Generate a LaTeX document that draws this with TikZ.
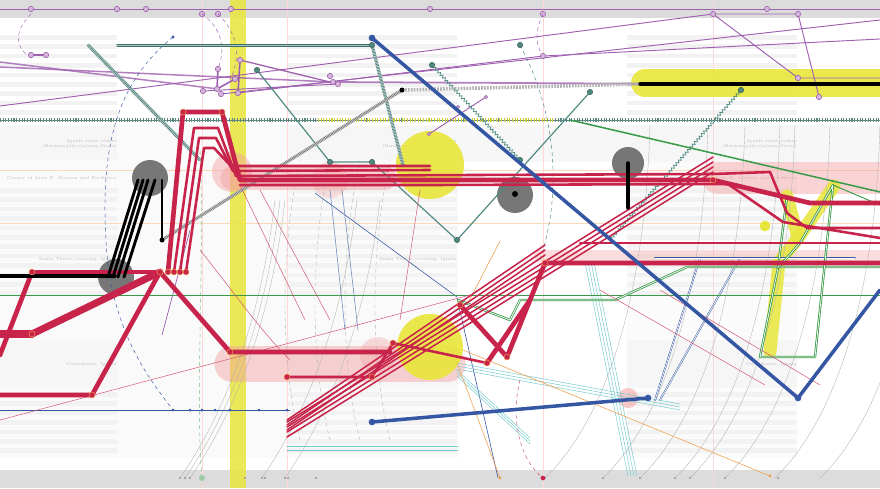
\documentclass[tikz,border=0pt]{standalone}
\usetikzlibrary{decorations.pathmorphing}
\definecolor{crim}{HTML}{C8234A}
\definecolor{pinkb}{HTML}{F4A0A0}
\definecolor{yel}{HTML}{E8E63A}
\definecolor{gcirc}{HTML}{707070}
\definecolor{purp}{HTML}{A060B0}
\definecolor{tealc}{HTML}{4E8A80}
\definecolor{grn}{HTML}{3A9A4A}
\definecolor{blu}{HTML}{3456A3}
\definecolor{cyanc}{HTML}{70C8CC}
\definecolor{bandg}{HTML}{DCDCDC}
\definecolor{rowg}{HTML}{F2F2F2}
\definecolor{orng}{HTML}{F0A050}
\tikzset{
  lbl/.style={text=gray!55, font=\fontsize{3.4}{4}\selectfont, inner sep=0pt, anchor=east},
  pnode/.style={circle, fill=purp!45, draw=purp, line width=0.5pt, inner sep=0pt, minimum size=1.6mm},
  tnode/.style={circle, fill=tealc, draw=tealc!60!black, line width=0.4pt, inner sep=0pt, minimum size=1.6mm},
  rnode/.style={circle, fill=crim, draw=orng, line width=0.4pt, inner sep=0pt, minimum size=1.8mm},
  bnode/.style={circle, fill=blu, inner sep=0pt, minimum size=2mm},
  gnode/.style={rectangle, fill=gray!70, inner sep=0pt, minimum size=0.8mm},
  redthick/.style={draw=crim, line width=4pt},
  redmed/.style={draw=crim, line width=2.2pt},
  redthin/.style={draw=crim!80, line width=0.4pt},
  arcg/.style={draw=gray!60, line width=0.3pt},
}
\begin{document}
\begin{tikzpicture}[x=0.3mm,y=-0.3mm, line join=round, line cap=round]
\useasboundingbox (0,0) rectangle (880,488);
\clip (0,0) rectangle (880,488);
\fill[white] (0,0) rectangle (880,488);
% background areas
\fill[gray!4] (0,125) rectangle (458,458);
\fill[gray!6] (458,125) rectangle (880,162);
\fill[gray!3] (627,162) rectangle (797,458);
\foreach \r in {117,457,797}{
  \foreach \y in {35,44.4,...,112} \fill[rowg] (\r-170,\y) rectangle (\r,\y+4.6);
  \fill[gray!7] (\r-170,126) rectangle (\r,160);
  \foreach \y in {188,197.4,...,300} \fill[rowg] (\r-170,\y) rectangle (\r,\y+4.6);
  \fill[gray!7] (\r-170,340) rectangle (\r,388);
  \foreach \y in {392,401.4,...,452} \fill[rowg] (\r-170,\y) rectangle (\r,\y+4.6);
  \node[lbl, font=\fontsize{3.8}{4}\selectfont] at (\r,141) {Iguala town center};
  \node[lbl] at (\r,146.5) {(Hermenegildo Galeana Street)};
  \node[lbl, font=\fontsize{3.8}{4}\selectfont] at (\r,178) {Corner of Juan N. Álvarez and Periférico};
  \node[lbl, font=\fontsize{3.8}{4}\selectfont] at (\r,259) {Santa Teresa crossing, Iguala};
  \node[lbl, font=\fontsize{3.8}{4}\selectfont] at (\r,364) {Courthouse, Iguala};
  \node[lbl] at (\r,479) {Undetermined location};
}
\fill[bandg] (0,0) rectangle (880,18);
\fill[bandg] (0,470) rectangle (880,488);
% faint verticals
\foreach \x in {202,287,543,713} \draw[pink!60, line width=0.3pt] (\x,0)--(\x,488);
% faint peach horizontals
\draw[orng!40, line width=0.4pt] (0,170)--(880,170);
\draw[orng!40, line width=0.4pt] (0,223)--(880,223);
% yellow vertical band
\fill[yel, opacity=0.85] (230,0) rectangle (246,488);
% pink blobs
\draw[pinkb, opacity=0.45, line width=20pt] (232,178)--(385,178);
\fill[pinkb, opacity=0.45] (232,172) circle (6mm);
\fill[pinkb, opacity=0.35] (330,180) circle (5.4mm);
\draw[pinkb, opacity=0.45, line width=27pt] (718,178)--(900,178);
\draw[pinkb, opacity=0.45, line width=30pt] (232,364)--(448,364);
\fill[pinkb, opacity=0.35] (378,355) circle (5.4mm);
\draw[pinkb, opacity=0.35, line width=11pt] (540,256)--(900,256);
\fill[pinkb, opacity=0.55] (628,398) circle (3mm);
% yellow shapes
\fill[yel, opacity=0.9] (430,165) circle (10.2mm);
\fill[yel, opacity=0.9] (430,347) circle (9.9mm);
\draw[yel, opacity=0.9, line width=23.8pt] (645,83)--(900,83);
\draw[yel, opacity=0.85, line width=11pt] (770,352)--(779,262)--(798,238)--(834,186);
\draw[yel, opacity=0.85, line width=11pt] (787,196)--(798,238);
\fill[yel] (765,226) circle (1.6mm);
% gray circles
\fill[gcirc, opacity=0.95] (150,178) circle (5.4mm);
\fill[gcirc, opacity=0.95] (116,277) circle (5.4mm);
\fill[gcirc, opacity=0.95] (515,195) circle (5.4mm);
\fill[gcirc, opacity=0.95] (628,163) circle (4.8mm);
\fill[black] (515,194) circle (0.9mm);
% gray arcs
\foreach \x in {545,603,640,675,690,725,775,820}
  \draw[arcg] (\x,478) .. controls (\x+60,420) and (\x+100,300) .. (\x+105,125);
\foreach \x in {180,185,190,262,285}
  \draw[arcg] (\x,478) .. controls (\x+40,420) and (\x+80,330) .. (\x+95,200);
\foreach \x in {300,330,360,390}
  \draw[arcg, dashed] (\x,440) .. controls (\x-20,360) and (\x-20,250) .. (\x,160);
% dotted band line y=120
\draw[tealc!70!gray, line width=0.4pt] (0,120)--(880,120);
\draw[tealc!70!gray, line width=2.6pt, dash pattern=on 0.9pt off 1.4pt, line cap=butt] (0,120)--(880,120);
\draw[yel!90!black, line width=2.6pt, dash pattern=on 0.9pt off 1.4pt, line cap=butt] (318,120)--(555,120);
% top purple line
\draw[purp, line width=0.8pt] (0,9)--(880,9);
\foreach \x in {31,117,146,231,430,767} \node[pnode] at (\x,9) {};
\foreach \x in {202,218,543} \node[pnode] at (\x,14) {};
% purple dashed arcs
\draw[purp, dashed, line width=0.4pt] (31,14) .. controls (15,30) and (15,45) .. (27,55);
\draw[purp, dashed, line width=0.4pt] (202,14) .. controls (225,30) and (225,55) .. (217,70);
\draw[purp, dashed, line width=0.4pt] (218,14) .. controls (240,35) and (240,60) .. (230,80);
\draw[purp, dashed, line width=0.4pt] (543,14) .. controls (535,30) and (535,45) .. (543,56);
% purple lines
\draw[purp, line width=0.9pt] (31,55)--(46,55);
\draw[purp, line width=0.8pt] (0,106)--(713,14)--(798,14)--(819,97);
\draw[purp, line width=0.8pt] (713,14)--(798,78)--(880,78);
\draw[purp, line width=1.3pt, opacity=0.8] (0,62)--(218,89);
\draw[purp, line width=1.3pt, opacity=0.8] (0,67)--(333,82);
\draw[purp, line width=1.1pt] (240,60)--(338,84);
\draw[purp, line width=0.8pt] (238,93)--(543,56)--(880,39);
\draw[purp, line width=0.8pt] (221,94)--(880,20);
\draw[purp, line width=1.5pt, opacity=0.8] (333,82)--(880,85);
\draw[purp, line width=0.8pt] (203,91)--(338,84);
\draw[purp, line width=1.4pt] (240,60)--(238,93);
\draw[purp, line width=1.4pt] (218,69)--(217,89)--(235,79);
\draw[purp, line width=0.8pt] (429,134)--(486,97);
\draw[purp, line width=0.6pt] (162,335)--(190,230);
\foreach \p in {(31,55),(46,55),(240,60),(218,69),(235,79),(217,89),(221,94),(238,93),(203,91),(330,76),(333,82),(338,84),(713,14),(798,14),(819,97),(798,78),(543,56)} \node[pnode] at \p {};
\foreach \p in {(429,134),(458,107),(486,97)} \node[pnode, minimum size=1mm] at \p {};
% teal lines
\draw[tealc!50, line width=2pt] (117,45)--(372,45);
\draw[tealc!80!black, line width=0.3pt] (117,44)--(372,44) (117,46.5)--(372,46.5);
\foreach \a/\b in {{(88,45)}/{(200,160)},{(372,45)}/{(403,165)}}{
  \draw[tealc!40, line width=2.8pt] \a--\b;
  \draw[tealc!80!black, line width=2.8pt, dash pattern=on 0.4pt off 0.9pt, line cap=butt] \a--\b;
}
\draw[tealc, line width=1pt] (257,70)--(330,162)--(372,162)--(457,240)--(590,92);
\draw[tealc, line width=0.6pt, decorate, decoration={zigzag, segment length=3pt, amplitude=1.2pt}] (432,65)--(520,160);
\draw[tealc, line width=0.6pt, decorate, decoration={zigzag, segment length=3pt, amplitude=1.2pt}] (741,90)--(610,240);
\draw[tealc, line width=0.4pt, dashed] (520,45) .. controls (560,120) and (560,200) .. (540,260);
\foreach \p in {(257,70),(330,162),(372,162),(457,240),(590,92),(432,65),(520,45),(520,160),(741,90),(372,45)} \node[tnode] at \p {};
% gray striped line
\draw[gray!40, line width=2.6pt] (162,240)--(402,90);
\draw[gray!80!black, line width=2.6pt, dash pattern=on 0.4pt off 0.9pt, line cap=butt] (162,240)--(402,90);
\draw[gray!60, line width=3pt, dash pattern=on 1.5pt off 1pt, line cap=butt] (402,90)--(640,84);
% blue thin
\draw[blu, dashed, line width=0.4pt] (173,37) .. controls (120,80) and (100,140) .. (106,240) .. controls (110,330) and (150,380) .. (173,410);
\draw[blu, line width=0.5pt] (0,410)--(290,410);
\foreach \x in {173,190,202,215,230,259,287} \node[bnode, minimum size=0.9mm] at (\x,410) {};
\draw[blu, line width=0.5pt] (315,193)--(457,297);
\draw[blu!70, line width=0.5pt] (330,190)--(345,330) (342,190)--(358,330);
\draw[blu, double, line width=0.4pt] (655,400)--(700,258) (660,400)--(740,258);
\draw[blu, double, line width=0.4pt] (655,258)--(855,258) (700,264)--(830,264);
\draw[blu, line width=0.5pt] (457,298)--(498,478);
\node[bnode, minimum size=1mm] at (173,37) {};
% cyan
\foreach \d in {0,3,6,9} \draw[cyanc, line width=0.4pt] (585+\d,262)--(628+\d,476);
\foreach \d in {0,3,6} \draw[cyanc, line width=0.4pt] (457,363+\d)--(680,404+\d);
\foreach \d in {0,3,6} \draw[cyanc, line width=0.4pt] (457,370+\d)--(530,438+\d);
\foreach \d in {0,4} \draw[cyanc, line width=0.5pt] (287,446+\d)--(458,446+\d);
% orange
\draw[orng, line width=0.5pt] (463,350)--(770,476);
\draw[orng, line width=0.5pt] (500,241)--(468,303);
\draw[orng, line width=0.5pt] (457,363)--(500,478);
\node[circle, fill=orng, inner sep=0pt, minimum size=1mm] at (770,476) {};
\node[circle, fill=orng, inner sep=0pt, minimum size=1mm] at (500,478) {};
% green
\draw[grn, line width=0.6pt] (0,295)--(880,295);
\draw[grn, line width=1.3pt] (570,120)--(880,192);
\draw[grn, double, line width=0.7pt] (458,300)--(510,320)--(520,300)--(615,300)--(687,267)--(880,267);
\draw[grn, double, line width=0.7pt] (833,185)--(815,357)--(760,357)--(778,268)--(800,243)--(833,185);
\draw[grn, double, line width=0.7pt] (787,196)--(778,268);
\draw[grn, line width=0.8pt] (833,185)--(880,205);
\draw[grn!70, dashed, line width=0.4pt] (202,478) .. controls (195,400) and (205,250) .. (200,150);
\node[circle, fill=grn!50, inner sep=0pt, minimum size=1.8mm] at (202,478) {};
% red thin
\draw[redthin] (0,420)--(470,295);
\draw[redthin] (240,185)--(305,320) (260,190)--(330,320) (420,190)--(400,320);
\draw[redthin] (600,290)--(765,385) (660,290)--(820,385);
\draw[redthin, dashed] (520,380) .. controls (510,420) and (520,460) .. (543,478);
\draw[redthin] (200,250) .. controls (240,300) and (260,330) .. (290,360);
% red bundle diagonals
\foreach \d in {0,5,10,15} \draw[crim, line width=1.3pt] (287,437-\d)--(713,172-\d);
\foreach \d in {0,5,10} \draw[crim, line width=1.3pt] (287,430-\d)--(545,255-\d);
% red thick paths
\draw[redthick] (0,395)--(92,395)--(160,272);
\draw[crim, line width=7pt] (0,334)--(32,334);
\draw[crim, line width=6pt] (32,334)--(160,272);
\draw[redthick] (0,355)--(32,272);
\draw[black, line width=3pt] (0,276)--(115,276);
\draw[redthick] (32,272)--(160,272);
\draw[redthick] (160,272)--(230,352)--(390,352);
\draw[redmed] (287,377)--(372,377)--(393,343)--(487,363);
\draw[redthick] (460,305)--(507,357)--(545,263)--(880,263);
\draw[redthick] (487,363)--(530,300);
\draw[redmed] (580,243)--(880,243);
\draw[redthick] (168,272)--(183,112)--(222,112)--(240,180)--(713,180)--(810,203)--(880,203);
\draw[redmed] (174,272)--(194,128)--(218,128)--(236,176)--(713,174)--(770,172)--(787,213)--(807,228)--(880,228);
\draw[redmed] (180,272)--(199,138)--(216,138)--(233,171)--(430,170);
\draw[redmed] (186,272)--(204,148)--(214,148)--(231,166)--(430,166);
\draw[redmed] (240,185)--(430,185)--(728,184)--(783,222)--(880,238);
\foreach \p in {(32,272),(92,395),(160,272),(32,334),(230,352),(287,377),(372,377),(393,343),(487,363),(545,263),(713,180),(168,272),(174,272),(180,272),(186,272),(183,112),(222,112),(507,357),(460,305)} \node[rnode] at \p {};
% blue thick
\draw[blu, line width=3pt] (372,38)--(798,398)--(880,290);
\draw[blu, line width=3pt] (372,422)--(648,398);
\foreach \p in {(372,38),(798,398),(372,422),(648,398)} \node[bnode] at \p {};
% black
\foreach \a/\b in {138/108,143/113,148/118,155/124} \draw[black, line width=2.5pt] (\a,180)--(\b,277);
\draw[black, line width=2.5pt] (162,180)--(162,240);
\draw[black, line width=3pt] (628,163)--(628,208);
\draw[black, line width=3pt] (640,84)--(880,84);
\node[circle, fill=black, inner sep=0pt, minimum size=1.5mm] at (402,90) {};
\node[circle, fill=black, inner sep=0pt, minimum size=1.5mm] at (162,240) {};
% bottom markers
\foreach \x in {180,185,190,245,262,265,285,288,316,545,603,640,675,690,725,778} \node[gnode] at (\x,478) {};
\node[circle, fill=crim, inner sep=0pt, minimum size=1.4mm] at (543,478) {};
\end{tikzpicture}
\end{document}
